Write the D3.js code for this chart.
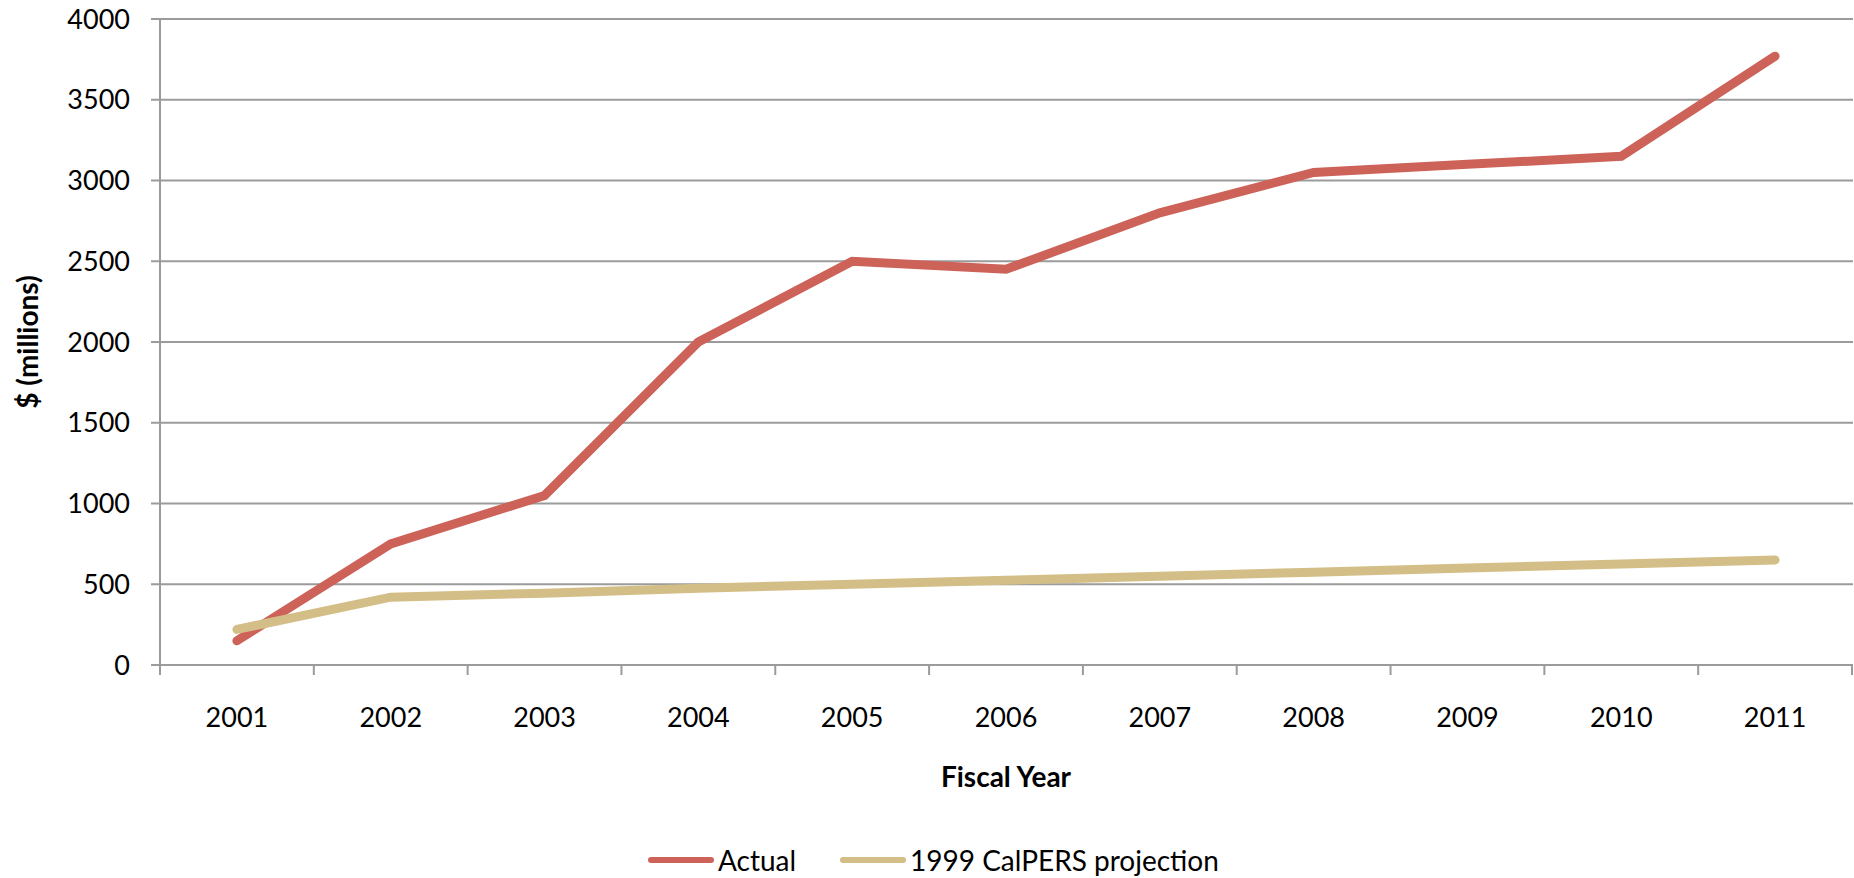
<!DOCTYPE html>
<html>
<head>
<meta charset="utf-8">
<style>
	body { margin: 0; background: #fff; }
	svg text { font-family: Lato, "Open Sans", sans-serif; fill: #000; }
</style>
</head>
<body>
<svg width="1854" height="878"></svg>
<script src="https://d3js.org/d3.v7.min.js"></script>
<script>

	// Data.
	var years = ["2001","2002","2003","2004","2005","2006","2007","2008","2009","2010","2011"];
	var actual = [150, 750, 1050, 2000, 2500, 2450, 2800, 3050, 3100, 3150, 3770];
	var projection = [220, 420, 445, 475, 500, 525, 550, 575, 600, 625, 650];
	var yTicks = [0, 500, 1000, 1500, 2000, 2500, 3000, 3500, 4000];
	var seriesNames = ["Actual", "1999 CalPERS projection"];
	var seriesColors = ["#cd6259", "#d4be87"];

	var svg = d3.select("svg"),
		plotLeft = 160,
		plotRight = 1852,
		plotTop = 19,
		plotBottom = 665;

	var x = d3.scaleBand()
		.domain(years)
		.range([plotLeft, plotRight]);

	var y = d3.scaleLinear()
		.domain([0, 4000])
		.range([plotBottom, plotTop]);

	// Horizontal gridlines.
	svg.append("g")
		.selectAll("line")
		.data(yTicks)
		.enter().append("line")
			.attr("x1", plotLeft - 9)
			.attr("x2", plotRight + 1)
			.attr("y1", function(d) { return y(d); })
			.attr("y2", function(d) { return y(d); })
			.style("stroke", "#9b9b9b")
			.style("stroke-width", 2);

	// Y axis labels.
	svg.append("g")
		.selectAll("text")
		.data(yTicks)
		.enter().append("text")
			.attr("x", 130)
			.attr("y", function(d) { return y(d); })
			.attr("dy", "0.36em")
			.attr("text-anchor", "end")
			.style("font-size", "27px")
			.text(function(d) { return d; });

	// Y axis line.
	svg.append("line")
		.attr("x1", plotLeft).attr("x2", plotLeft)
		.attr("y1", plotTop).attr("y2", plotBottom + 10)
		.style("stroke", "#9b9b9b")
		.style("stroke-width", 2);

	// X axis ticks between categories.
	var xTickPos = years.map(function(d) { return x(d); }).concat([x(years[years.length - 1]) + x.bandwidth()]);
	svg.append("g")
		.selectAll("line")
		.data(xTickPos)
		.enter().append("line")
			.attr("x1", function(d) { return d; })
			.attr("x2", function(d) { return d; })
			.attr("y1", plotBottom)
			.attr("y2", plotBottom + 10)
			.style("stroke", "#9b9b9b")
			.style("stroke-width", 2);

	svg.append("g")
		.selectAll("text")
		.data(years)
		.enter().append("text")
			.attr("x", function(d) { return x(d) + x.bandwidth() / 2; })
			.attr("y", 727)
			.attr("text-anchor", "middle")
			.style("font-size", "27px")
			.text(function(d) { return d; });

	// Axis titles.
	svg.append("text")
		.attr("x", (plotLeft + plotRight) / 2)
		.attr("y", 787)
		.attr("text-anchor", "middle")
		.style("font-size", "28px")
		.style("font-weight", "bold")
		.text("Fiscal Year");

	svg.append("text")
		.attr("transform", "translate(38," + ((plotTop + plotBottom) / 2) + ") rotate(-90)")
		.attr("text-anchor", "middle")
		.style("font-size", "28px")
		.style("font-weight", "bold")
		.text("$ (millions)");

	// Lines.
	var line = d3.line()
		.x(function(d, i) { return x(years[i]) + x.bandwidth() / 2; })
		.y(function(d) { return y(d); });

	[actual, projection].forEach(function(s, i) {
		svg.append("path")
			.datum(s)
			.attr("d", line)
			.style("fill", "none")
			.style("stroke", seriesColors[i])
			.style("stroke-width", 9)
			.style("stroke-linecap", "round")
			.style("stroke-linejoin", "miter");
	});

	// Legend.
	var legendX = [651, 843];
	seriesNames.forEach(function(name, i) {
		var g = svg.append("g");
		g.append("line")
			.attr("x1", legendX[i]).attr("x2", legendX[i] + 60)
			.attr("y1", 860).attr("y2", 860)
			.style("stroke", seriesColors[i])
			.style("stroke-width", 6)
			.style("stroke-linecap", "round");
		g.append("text")
			.attr("x", legendX[i] + 67)
			.attr("y", 871)
			.style("font-size", "28px")
			.text(name);
	});

</script>
</body>
</html>
